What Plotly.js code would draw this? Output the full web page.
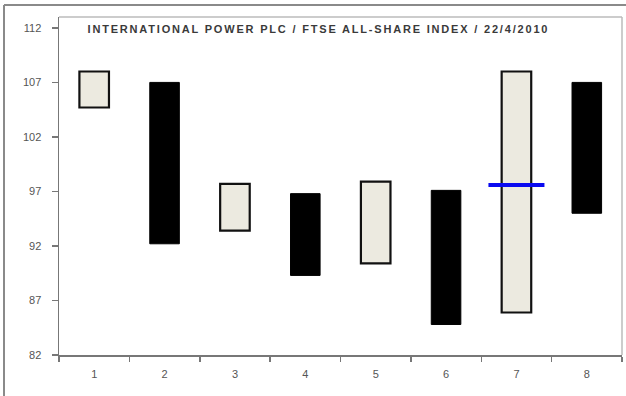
<!DOCTYPE html>
<html>
<head>
<meta charset="utf-8">
<script src="https://cdn.plot.ly/plotly-3.0.1.min.js"></script>
<style>
  html, body { margin: 0; padding: 0; background: #ffffff; }
  #chart { width: 626px; height: 396px; }
</style>
</head>
<body>
<div id="chart"></div>
<script>
// ---- data ----
const categories = ['1', '2', '3', '4', '5', '6', '7', '8'];
const lowValues  = [104.7, 92.2, 93.4, 89.3, 90.4, 84.8, 85.9, 95.0];
const highValues = [108.0, 107.0, 97.7, 96.8, 97.9, 97.1, 108.0, 107.0];
const boxType    = ['light', 'dark', 'light', 'dark', 'light', 'dark', 'light', 'dark'];
const markCategory = ['7'];
const markValue    = [97.6];
const yTicks = [82, 87, 92, 97, 102, 107, 112];
const chartTitle = 'INTERNATIONAL POWER PLC / FTSE ALL-SHARE INDEX / 22/4/2010';

function pick(kind) {
  const x = [], base = [], len = [];
  categories.forEach((c, i) => {
    if (boxType[i] === kind) {
      x.push(c);
      base.push(lowValues[i]);
      len.push(highValues[i] - lowValues[i]);
    }
  });
  return { x, base, len };
}

const light = pick('light');
const dark = pick('dark');

const traces = [
  {
    type: 'bar', x: light.x, y: light.len, base: light.base, width: 0.42,
    marker: { color: '#ECEAE0', line: { color: '#111111', width: 2.2 } },
    hoverinfo: 'skip'
  },
  {
    type: 'bar', x: dark.x, y: dark.len, base: dark.base, width: 0.42,
    marker: { color: '#000000', line: { color: '#000000', width: 1 } },
    hoverinfo: 'skip'
  },
  {
    type: 'scatter', mode: 'markers', x: markCategory, y: markValue,
    marker: { symbol: 'line-ew', size: 40, color: '#0000FF', line: { color: '#0A0AF0', width: 4 } },
    hoverinfo: 'skip'
  }
];

const L = 59, R = 4, T = 17, B = 41;
const pw = 626 - L - R, ph = 396 - T - B;

const layout = {
  width: 626, height: 396,
  margin: { l: L, r: R, t: T, b: B, pad: 0 },
  paper_bgcolor: '#ffffff', plot_bgcolor: '#ffffff',
  showlegend: false,
  barmode: 'overlay',
  font: { family: 'Liberation Sans, Arial, sans-serif', size: 11, color: '#555555' },
  xaxis: {
    type: 'category', categoryorder: 'array', categoryarray: categories,
    range: [-0.5, 7.5],
    showgrid: false, zeroline: false,
    showline: true, linecolor: '#777777', linewidth: 1.5,
    ticks: 'outside', tickson: 'boundaries', ticklen: 5, tickcolor: '#777777', tickwidth: 1.5,
    ticklabelstandoff: 8,
    tickfont: { size: 11, color: '#555555' }
  },
  yaxis: {
    range: [82, 113],
    tickvals: yTicks, ticktext: yTicks.map(String),
    showgrid: false, zeroline: false,
    showline: true, linecolor: '#777777', linewidth: 1.5,
    ticks: 'outside', ticklen: 6, tickcolor: '#777777', tickwidth: 1.5,
    ticklabelstandoff: 8,
    tickfont: { size: 11, color: '#555555' }
  },
  shapes: [
    { type: 'line', xref: 'paper', yref: 'paper', x0: 0, x1: 1, y0: 1, y1: 1,
      line: { color: '#BBBBBB', width: 1.5 } },
    { type: 'line', xref: 'paper', yref: 'paper', x0: 1, x1: 1, y0: 0, y1: 1,
      line: { color: '#BBBBBB', width: 1.5 } },
    { type: 'line', xref: 'paper', yref: 'paper',
      x0: (4 - L) / pw, x1: (4 - L) / pw, y0: -B / ph - 0.05, y1: 1 + (T - 5) / ph,
      line: { color: '#8A8A8A', width: 2 } },
    { type: 'line', xref: 'paper', yref: 'paper',
      x0: (4 - L) / pw, x1: 1 + 10 / pw, y0: 1 + (T - 5) / ph, y1: 1 + (T - 5) / ph,
      line: { color: '#8A8A8A', width: 2 } }
  ],
  annotations: [
    { text: '<b>' + chartTitle + '</b>', xref: 'paper', yref: 'paper',
      x: (318 - L) / pw, y: (355 - 29) / ph, xanchor: 'center', yanchor: 'middle',
      showarrow: false,
      font: { family: 'Liberation Sans, Arial, sans-serif', size: 11, color: '#3a3a3a' } }
  ]
};

Plotly.newPlot('chart', traces, layout, { staticPlot: true, displayModeBar: false }).then(() => {
  // adjust the title letter spacing to match the reference span (x 88 -> 548)
  const t = document.querySelector('#chart .annotation-text');
  if (t) {
    const w = t.getComputedTextLength ? t.getComputedTextLength() : t.getBBox().width;
    const n = chartTitle.length - 1;
    const sp = (460 - w) / n;
    t.style.letterSpacing = sp.toFixed(2) + 'px';
  }
});
</script>
</body>
</html>
